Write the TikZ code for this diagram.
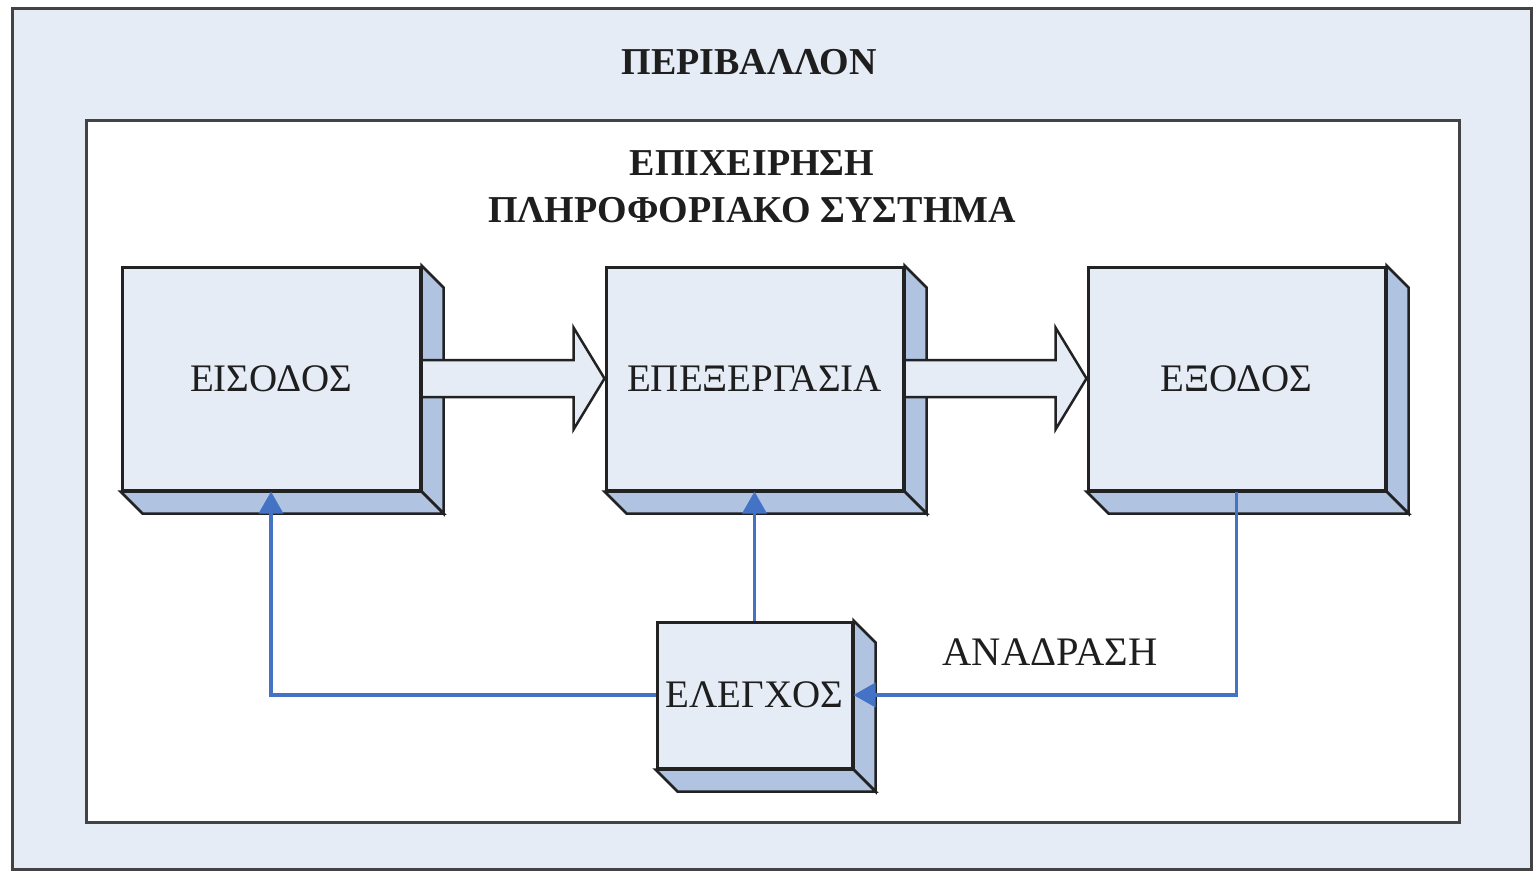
\documentclass[tikz,border=0pt]{standalone}
\usepackage{fontspec}
\setmainfont{Liberation Serif}
\usetikzlibrary{calc,arrows.meta}
\definecolor{facefill}{HTML}{E6ECF6}
\definecolor{sidefill}{HTML}{B0C4E2}
\definecolor{bluel}{HTML}{4472C4}
\definecolor{edge}{HTML}{222222}
\definecolor{txt}{HTML}{1E1E1E}
\tikzset{
  frame/.style={draw=edge!85, line width=3pt},
  face/.style={draw=edge, line width=3pt, fill=facefill, text=txt,
    font=\fontsize{39}{44}\selectfont, inner sep=0pt},
  side/.style={draw=edge, line width=2.5pt, fill=sidefill, line join=miter},
  blockarrow/.style={draw=edge, line width=2.5pt, fill=facefill, line join=miter},
  feed/.style={draw=bluel, line width=3.5pt, -{Triangle[length=22pt,width=24pt]}},
  title/.style={text=txt, font=\bfseries\fontsize{38}{47}\selectfont, align=center},
  lbl/.style={text=txt, font=\fontsize{40.5}{44}\selectfont}
}
\newcommand{\depthfaces}[1]{%
  \path[side] (#1.north east) -- ++(22,22) -- ($(#1.south east)+(22,22)$) -- (#1.south east) -- cycle;
  \path[side] (#1.south west) -- ++(22,22) -- ($(#1.south east)+(22,22)$) -- (#1.south east) -- cycle;
}
\begin{document}
\begin{tikzpicture}[x=1pt,y=-1pt]
\useasboundingbox (0,0) rectangle (1537,871);
\fill[white] (0,0) rectangle (1537,871);
% outer environment frame
\path[frame, fill=facefill] (12,8) rectangle (1531,869);
% inner organisation frame
\path[frame, fill=white] (86,120) rectangle (1459,822);
\node[title] (env) at (749,62) {ΠΕΡΙΒΑΛΛΟΝ};
\node[title] (org) at (752,187) {ΕΠΙΧΕΙΡΗΣΗ\\ΠΛΗΡΟΦΟΡΙΑΚΟ ΣΥΣΤΗΜΑ};
% boxes
\node[face, minimum width=298pt, minimum height=223pt] (ein) at (271,378.5) {ΕΙΣΟΔΟΣ};
\node[face, minimum width=297pt, minimum height=223pt] (epe) at (754.5,378.5) {ΕΠΕΞΕΡΓΑΣΙΑ};
\node[face, minimum width=297pt, minimum height=223pt] (exo) at (1236.5,378.5) {ΕΞΟΔΟΣ};
\node[face, minimum width=195pt, minimum height=146pt] (ctl) at (754.5,695) {ΕΛΕΓΧΟΣ};
\depthfaces{ein}
\depthfaces{epe}
\depthfaces{exo}
\depthfaces{ctl}
% block arrows
\path[blockarrow] ($(ein.east)+(0,-18.5)$) -- ($(epe.west)+(-31,-18.5)$) -- ($(epe.west)+(-31,-51)$)
  -- (epe.west) -- ($(epe.west)+(-31,51)$) -- ($(epe.west)+(-31,18.5)$) -- ($(ein.east)+(0,18.5)$) -- cycle;
\path[blockarrow] ($(epe.east)+(0,-18.5)$) -- ($(exo.west)+(-31,-18.5)$) -- ($(exo.west)+(-31,-51)$)
  -- (exo.west) -- ($(exo.west)+(-31,51)$) -- ($(exo.west)+(-31,18.5)$) -- ($(epe.east)+(0,18.5)$) -- cycle;
% feedback / control lines
\draw[feed] (ctl.west) -| (ein.south);
\draw[feed] (ctl.north) -- (epe.south);
\draw[feed] (exo.south) |- (ctl.east);
\node[lbl] (anad) at (1050,652) {ΑΝΑΔΡΑΣΗ};
\end{tikzpicture}
\end{document}
